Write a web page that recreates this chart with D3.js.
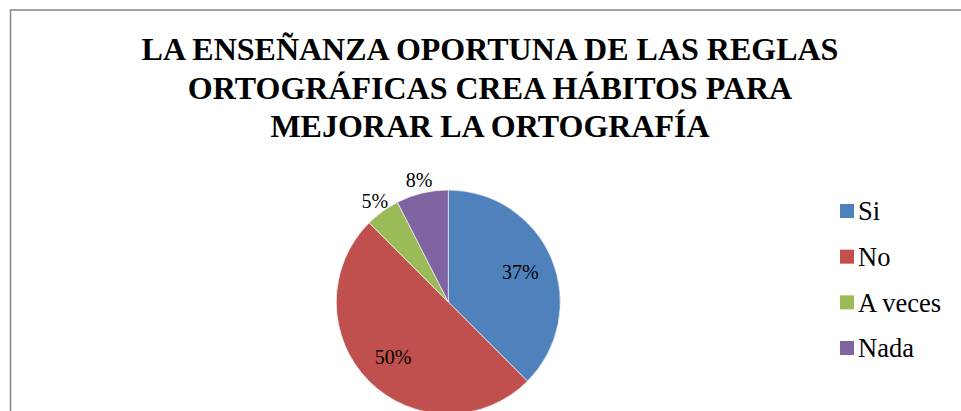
<!DOCTYPE html>
<html>
<head>
<meta charset="utf-8">
<script src="https://cdn.jsdelivr.net/npm/d3@7"></script>
<style>
  html, body { margin: 0; padding: 0; background: #fff; }
  svg { display: block; }
</style>
</head>
<body>
<svg id="chart" width="961" height="411"></svg>
<script>
const titleLines = ["LA ENSEÑANZA OPORTUNA DE LAS REGLAS", "ORTOGRÁFICAS CREA HÁBITOS PARA", "MEJORAR LA ORTOGRAFÍA"];
const categories = ["Si", "No", "A veces", "Nada"];
const values = [37.5, 50, 5, 7.5];
const labels = ["37%", "50%", "5%", "8%"];
const labelInside = [true, true, false, false];
const colors = ["#4F81BD", "#C0504D", "#9BBB59", "#8064A2"];

const FONT = "Liberation Serif";
const svg = d3.select("#chart");

// chart border
svg.append("rect")
  .attr("x", 10.5).attr("y", 10)
  .attr("width", 1000).attr("height", 500)
  .attr("fill", "none").attr("stroke", "#8a8a8a").attr("stroke-width", 1.6);

// title
const title = svg.append("text")
  .attr("text-anchor", "middle")
  .attr("font-family", FONT)
  .attr("font-weight", "bold")
  .attr("font-size", 32)
  .attr("fill", "#000");
titleLines.forEach((t, i) => {
  title.append("tspan").attr("x", 490).attr("y", 60 + i * 38.5).text(t);
});

// pie
const cx = 448.3, cy = 302, r = 112;
const g = svg.append("g").attr("transform", `translate(${cx},${cy})`);
const pie = d3.pie().sort(null).value(d => d.v);
const data = categories.map((c, i) => ({ c, v: values[i], lab: labels[i], inside: labelInside[i], col: colors[i] }));
const arcs = pie(data);
const arc = d3.arc().innerRadius(0).outerRadius(r);
const inArc = d3.arc().innerRadius(78).outerRadius(78);
const outArc = d3.arc().innerRadius(125).outerRadius(125);

g.selectAll("path.slice").data(arcs).join("path")
  .attr("class", "slice")
  .attr("d", arc)
  .attr("fill", d => d.data.col)
  .attr("stroke", "#fff")
  .attr("stroke-width", 0.6);

g.selectAll("text.lab").data(arcs).join("text")
  .attr("class", "lab")
  .attr("transform", d => `translate(${(d.data.inside ? inArc : outArc).centroid(d)})`)
  .attr("text-anchor", "middle")
  .attr("dy", "0.35em")
  .attr("font-family", FONT)
  .attr("font-size", 20)
  .attr("fill", "#000")
  .text(d => d.data.lab);

// legend
const legY = d3.scalePoint().domain(categories).range([211, 348]);
const leg = svg.append("g");
const items = leg.selectAll("g").data(data).join("g")
  .attr("transform", d => `translate(840,${legY(d.c)})`);
items.append("rect")
  .attr("x", 0).attr("y", -7).attr("width", 14).attr("height", 14)
  .attr("fill", d => d.col);
items.append("text")
  .attr("x", 18).attr("y", 0).attr("dy", "0.35em")
  .attr("font-family", FONT)
  .attr("font-size", 26.5)
  .attr("fill", "#000")
  .text(d => d.c);
</script>
</body>
</html>
